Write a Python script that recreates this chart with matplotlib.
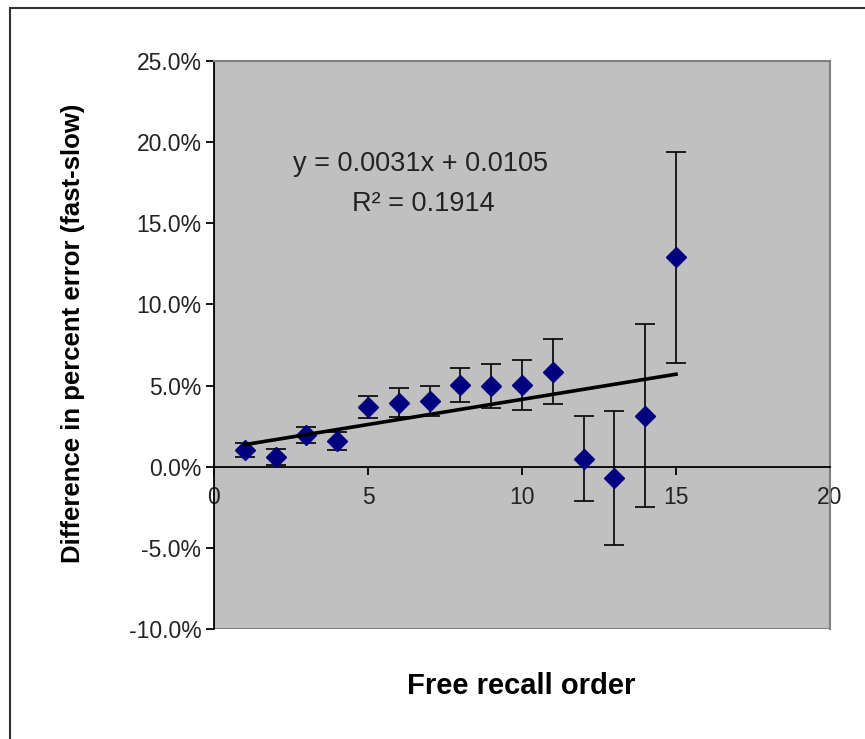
import numpy as np
import matplotlib
matplotlib.use("Agg")
import matplotlib.pyplot as plt
from matplotlib.patches import Rectangle
from matplotlib.ticker import PercentFormatter, MultipleLocator

plt.rcParams['font.family'] = ['Liberation Sans', 'DejaVu Sans']
plt.rcParams['axes.unicode_minus'] = False

# Data
order = [1, 2, 3, 4, 5, 6, 7, 8, 9, 10, 11, 12, 13, 14, 15]
diff = [0.0105, 0.0060, 0.0198, 0.0158, 0.0367, 0.0394, 0.0405, 0.0503,
        0.0498, 0.0504, 0.0585, 0.0050, -0.0070, 0.0315, 0.1290]
err = [0.0044, 0.0052, 0.0049, 0.0057, 0.0067, 0.0090, 0.0091, 0.0107,
       0.0136, 0.0155, 0.0199, 0.0260, 0.0415, 0.0565, 0.0650]

# Linear trend (as printed on the chart)
slope = 0.0031
intercept = 0.0105
r2 = 0.1914

W, H = 865, 739
fig = plt.figure(figsize=(W / 100, H / 100), dpi=100)

# chart area border (only left and top edges visible)
fig.patches.append(Rectangle((10 / W, -0.1), 1.2, 1 - 8 / H + 0.1,
                             transform=fig.transFigure, fill=False,
                             edgecolor='#333333', linewidth=1.5))

ax = fig.add_axes([214 / W, 1 - 629 / H, 616 / W, 568 / H])
ax.set_facecolor('#C0C0C0')

ax.errorbar(order, diff, yerr=err, fmt='none', ecolor='black',
            elinewidth=1.2, capsize=7, capthick=1.2, zorder=2)
ax.plot(order, diff, linestyle='none', marker='D', markersize=10,
        color='#000080', markeredgecolor='#000080', zorder=3)

xt = np.array([order[0], order[-1]])
ax.plot(xt, slope * xt + intercept, color='black', linewidth=2.6, zorder=4)

ax.text(6.72, 0.1865, 'y = %.4fx + %.4f' % (slope, intercept),
        ha='center', va='center', fontsize=19.5, color='#222222')
ax.text(6.8, 0.162, 'R² = %.4f' % r2, ha='center', va='center',
        fontsize=19.5, color='#222222')

ax.set_xlim(0, 20)
ax.set_ylim(-0.10, 0.25)
ax.xaxis.set_major_locator(MultipleLocator(5))
ax.yaxis.set_major_locator(MultipleLocator(0.05))
ax.yaxis.set_major_formatter(PercentFormatter(1.0, decimals=1))

ax.spines['bottom'].set_position(('data', 0))
ax.spines['bottom'].set_linewidth(1.3)
ax.spines['left'].set_linewidth(1.3)
for s in ['top', 'right']:
    ax.spines[s].set_color('#808080')
    ax.spines[s].set_linewidth(1.5)
ax.add_patch(Rectangle((0, 0), 1, 1, transform=ax.transAxes, fill=False,
                       edgecolor='#808080', linewidth=1.5, zorder=0.5))

ax.tick_params(axis='both', direction='out', length=6, width=1.3,
               labelsize=16.5, colors='black', labelcolor='#222222')
ax.tick_params(axis='x', pad=8)
ax.tick_params(axis='y', pad=3)

ax.set_xlabel('Free recall order', fontsize=21, fontweight='bold')
ax.xaxis.set_label_coords(0.498, -0.075)
ax.set_ylabel('Difference in percent error (fast-slow)', fontsize=18.5,
              fontweight='bold')
ax.yaxis.set_label_coords(-0.21, 0.52)

fig.savefig('out.png', dpi=100)
